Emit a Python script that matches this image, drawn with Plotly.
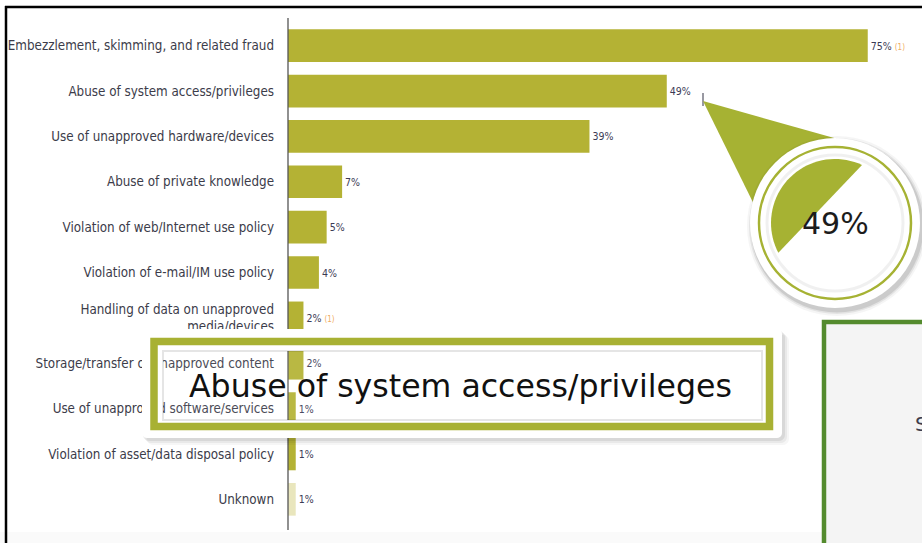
import numpy as np
import plotly.graph_objects as go

# ---------------- data ----------------
categories = [
    "Embezzlement, skimming, and related fraud",
    "Abuse of system access/privileges",
    "Use of unapproved hardware/devices",
    "Abuse of private knowledge",
    "Violation of web/Internet use policy",
    "Violation of e-mail/IM use policy",
    "Handling of data on unapproved<br>media/devices",
    "Storage/transfer of unapproved content",
    "Use of unapproved software/services",
    "Violation of asset/data disposal policy",
    "Unknown",
]
values = [75, 49, 39, 7, 5, 4, 2, 2, 1, 1, 1]
notes = ["(1)", "", "", "", "", "", "(1)", "", "", "", ""]
callout_value = "49%"
callout_label = "Abuse of system access/privileges"
side_text = "S"

# ---------------- layout geometry (pixels) ----------------
FW, FH = 922, 543
L, T, W, H = 288, 23, 634, 499
B = FH - T - H
XMAX = W / 7.73


def X(px):
    return float((px - L) / W)


def Y(py):
    return float((T + H - py) / H)


def path(points, close=True):
    s = "M " + " L ".join(f"{X(a):.5f},{Y(b):.5f}" for a, b in points)
    return s + (" Z" if close else "")


def rrect(x0, y0, x1, y1, r):
    pts = []
    for cx, cy, a0 in [(x1 - r, y0 + r, -90), (x1 - r, y1 - r, 0), (x0 + r, y1 - r, 90), (x0 + r, y0 + r, 180)]:
        for a in np.linspace(a0, a0 + 90, 6):
            pts.append((cx + r * np.cos(np.radians(a)), cy + r * np.sin(np.radians(a))))
    return pts


def ring_path(outer, inner):
    return path(outer) + " " + path(inner)


def P(**kw):
    d = dict(xref="paper", yref="paper", layer="above")
    d.update(kw)
    return d


bar_color = "#b4b234"
colors = [bar_color] * (len(values) - 1) + ["#e9e6bd"]
texts = [
    f"{v}%" + (f" <span style='color:#f0ad62;font-size:8px'>{n}</span>" if n else "")
    for v, n in zip(values, notes)
]

LABEL_FONT = "DejaVu Sans Condensed, Liberation Sans Narrow, sans-serif"

fig = go.Figure(
    go.Bar(
        y=categories,
        x=values,
        orientation="h",
        marker=dict(color=colors, line=dict(width=0)),
        width=0.72,
        text=texts,
        textposition="outside",
        textfont=dict(family=LABEL_FONT, size=10.5, color="#3b3b55"),
        cliponaxis=False,
        hoverinfo="skip",
    )
)

fig.update_layout(
    width=FW,
    height=FH,
    margin=dict(l=L, r=FW - L - W, t=T, b=B, pad=0, autoexpand=False),
    paper_bgcolor="white",
    plot_bgcolor="white",
    showlegend=False,
    xaxis=dict(range=[0, XMAX], visible=False, fixedrange=True),
    yaxis=dict(
        type="category",
        categoryarray=categories,
        range=[len(categories) - 0.5, -0.5],
        automargin=False,
        showline=False,
        showgrid=False,
        zeroline=False,
        ticks="",
        ticklabelstandoff=13,
        tickfont=dict(family=LABEL_FONT, size=13.3, color="#3c3c4a"),
        fixedrange=True,
    ),
)

shapes = []
# axis line
shapes.append(P(type="line", x0=X(288), x1=X(288), y0=Y(18), y1=Y(530),
                line=dict(color="#555555", width=1.3)))
# faint bottom strip
shapes.append(P(type="rect", x0=X(0), x1=X(FW), y0=Y(532), y1=Y(FH),
                fillcolor="rgba(0,0,0,0.018)", line=dict(width=0)))
# outer black frame (left & top)
shapes.append(P(type="line", x0=X(6), x1=X(6), y0=Y(6), y1=Y(FH + 2),
                line=dict(color="black", width=2.5)))
shapes.append(P(type="line", x0=X(5), x1=X(FW + 2), y0=Y(7), y1=Y(7),
                line=dict(color="black", width=2.5)))
# text cursor after 49%
shapes.append(P(type="line", x0=X(703), x1=X(703), y0=Y(93), y1=Y(106),
                line=dict(color="#333344", width=1)))

# ---- callout triangle and circle ----
cg = "#a6b233"
shapes.append(P(type="path", path=path([(703, 101), (852, 143), (778, 253)]),
                fillcolor=cg, line=dict(width=0)))
cx, cy = 835, 223
for r, a in [(90, 0.04), (88, 0.07), (86.5, 0.10)]:
    shapes.append(P(type="circle", x0=X(cx - r + 2), x1=X(cx + r + 2), y0=Y(cy - r + 3), y1=Y(cy + r + 3),
                    fillcolor=f"rgba(0,0,0,{a})", line=dict(width=0)))
shapes.append(P(type="circle", x0=X(cx - 85), x1=X(cx + 85), y0=Y(cy - 85), y1=Y(cy + 85),
                fillcolor="white", line=dict(width=0)))
shapes.append(P(type="circle", x0=X(cx - 68), x1=X(cx + 68), y0=Y(cy - 68), y1=Y(cy + 68),
                fillcolor="rgba(0,0,0,0)", line=dict(color="rgba(0,0,0,0.06)", width=3)))
shapes.append(P(type="circle", x0=X(cx - 76), x1=X(cx + 76), y0=Y(cy - 76), y1=Y(cy + 76),
                fillcolor="rgba(0,0,0,0)", line=dict(color=cg, width=2.5)))
# green segment inside circle
rs = 64
a1, a2 = np.degrees(np.arctan2(-58, 27)), np.degrees(np.arctan2(30, -57)) - 360
seg = [(cx + rs * np.cos(np.radians(a)), cy + rs * np.sin(np.radians(a))) for a in np.linspace(a1, a2, 40)]
shapes.append(P(type="path", path=path(seg), fillcolor=cg, line=dict(width=0)))

# ---- label box ----
hole = [(163, 351), (762, 351), (762, 420), (163, 420)][::-1]
for off, a in [(7, 0.035), (5, 0.05), (3, 0.07)]:
    shapes.append(P(type="path", path=ring_path(rrect(142 + off - 2, 329 + off - 1, 782 + off, 438 + off, 6), hole),
                    fillcolor=f"rgba(0,0,0,{a})", line=dict(width=0), fillrule="evenodd"))
shapes.append(P(type="path", path=ring_path(rrect(142, 329, 782, 438, 5), hole),
                fillcolor="white", line=dict(width=0), fillrule="evenodd"))
shapes.append(P(type="rect", x0=X(163), x1=X(762), y0=Y(351), y1=Y(420),
                fillcolor="rgba(255,255,255,0.08)", line=dict(color="rgba(0,0,0,0.10)", width=2)))
shapes.append(P(type="rect", x0=X(154), x1=X(769.5), y0=Y(341.5), y1=Y(426.5),
                fillcolor="rgba(0,0,0,0)", line=dict(color="#a8b133", width=7.5)))

# ---- bottom right box ----
shapes.append(P(type="rect", x0=X(824), x1=X(940), y0=Y(322), y1=Y(560),
                fillcolor="#f4f4f4", line=dict(color="#548b2e", width=4.5)))

fig.update_layout(shapes=shapes)

fig.add_annotation(x=X(835), y=Y(224), xref="paper", yref="paper", text=callout_value, showarrow=False,
                   font=dict(family="DejaVu Sans, sans-serif", size=30, color="#1c1c1c"),
                   xanchor="center", yanchor="middle")
fig.add_annotation(x=X(460), y=Y(386), xref="paper", yref="paper", text=callout_label, showarrow=False,
                   font=dict(family="DejaVu Sans, sans-serif", size=31.6, color="#111111"),
                   xanchor="center", yanchor="middle")
fig.add_annotation(x=X(913), y=Y(424), xref="paper", yref="paper", text=side_text, showarrow=False,
                   font=dict(family="DejaVu Sans, sans-serif", size=20, color="#3e3e4e"),
                   xanchor="left", yanchor="middle")

fig.write_html("out.html", config=dict(displayModeBar=False, staticPlot=True))
